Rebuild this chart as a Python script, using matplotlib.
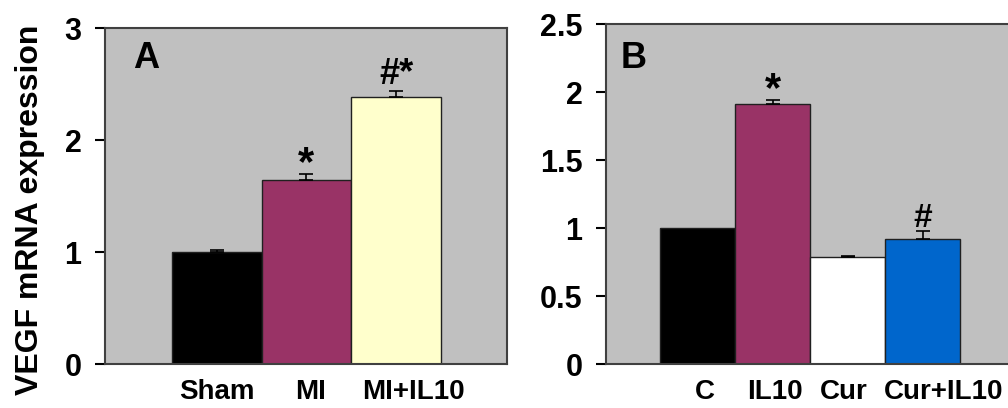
import matplotlib.pyplot as plt
import numpy as np

plt.rcParams['font.family'] = ['Liberation Sans', 'DejaVu Sans']
plt.rcParams['font.weight'] = 'bold'

# panel A
groups_a = ['Sham', 'MI', 'MI+IL10']
values_a = [1.00, 1.64, 2.38]
errors_a = [0.02, 0.056, 0.056]
marks_a = ['', '*', '#*']
colors_a = ['#000000', '#993366', '#FFFFCC']

# panel B
groups_b = ['C', 'IL10', 'Cur', 'Cur+IL10']
values_b = [1.00, 1.91, 0.787, 0.92]
errors_b = [0.0, 0.035, 0.01, 0.058]
marks_b = ['', '*', '', '#']
colors_b = ['#000000', '#993366', '#FFFFFF', '#0066CC']

fig = plt.figure(figsize=(10.08, 4.08), dpi=100)
ax_a = fig.add_axes([0.1042, 0.1078, 0.3988, 0.8235])
ax_b = fig.add_axes([0.6012, 0.1078, 0.4256, 0.8333])


def draw_panel(ax, groups, values, errors, marks, colors, letter, letter_pos,
               ymax, yticks, xlim, label_shift):
    x = np.arange(len(groups))
    vals = np.array(values)
    errs = np.array(errors)
    ax.set_facecolor('#C0C0C0')
    ax.bar(x, vals, width=1.0, color=colors, edgecolor='#202020', linewidth=1.0, zorder=2)
    has_err = errs > 0
    ax.errorbar(x[has_err], vals[has_err], yerr=[np.zeros(has_err.sum()), errs[has_err]],
                fmt='none', ecolor='black', elinewidth=1.2, capsize=5, capthick=1.2, zorder=3)
    for xi, v, e, m in zip(x, vals, errs, marks):
        if not m:
            continue
        if m == '*':
            off, size = -1, 30
        elif m == '#':
            off, size = 3, 24
        else:
            off, size = 5, 26
        ax.annotate(m, (xi, v + e), xytext=(0, off), textcoords='offset points',
                    ha='center', va='baseline', fontsize=size, fontweight='bold')
    ax.set_xlim(*xlim)
    ax.set_ylim(0, ymax)
    ax.set_yticks(yticks)
    ax.set_yticklabels([('%g' % t) for t in yticks])
    ax.set_xticks(x + np.array(label_shift))
    ax.set_xticklabels(groups)
    ax.tick_params(axis='x', length=0, pad=11, labelsize=20)
    ax.tick_params(axis='y', length=7, width=1.5, pad=10, labelsize=22, direction='out')
    for s in ax.spines.values():
        s.set_color('#404040')
        s.set_linewidth(1.5)
    ax.text(letter_pos[0], letter_pos[1], letter, transform=ax.transAxes, fontsize=26,
            fontweight='bold', va='baseline', ha='left')


draw_panel(ax_a, groups_a, values_a, errors_a, marks_a, colors_a, 'A', (0.07, 0.881), 3,
           [0, 1, 2, 3], (-1.25, 3.24), [0.0, 0.05, 0.2])
draw_panel(ax_b, groups_b, values_b, errors_b, marks_b, colors_b, 'B', (0.033, 0.871), 2.5,
           [0, 0.5, 1, 1.5, 2, 2.5], (-1.22, 4.5), [0.1, 0.03, -0.05, 0.28])

fig.text(0.03, 0.485, 'VEGF mRNA expression', rotation=90, ha='center', va='center',
         fontsize=23, fontweight='bold')

fig.savefig('out.png', dpi=100)
